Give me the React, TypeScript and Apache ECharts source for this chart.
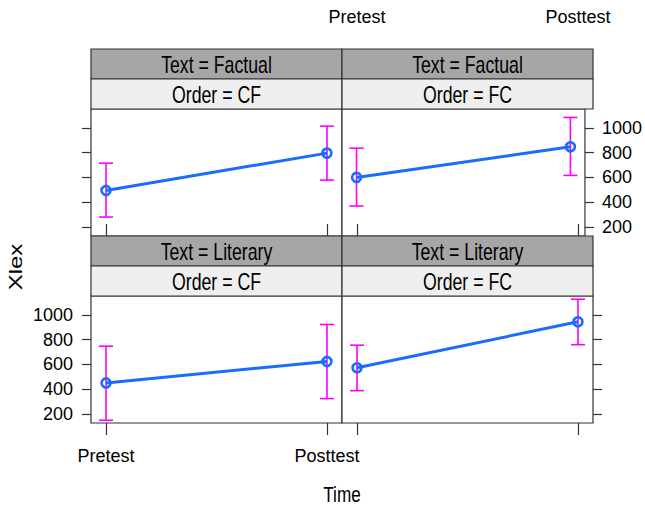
import React, { useEffect, useRef } from "react";
import * as echarts from "echarts";

const categories = ["Pretest", "Posttest"];
const xPositions = [1, 2];
const yTicks = [200, 400, 600, 800, 1000];

const textLevels = ["Factual", "Factual", "Literary", "Literary"];
const orderLevels = ["CF", "FC", "CF", "FC"];

const factualCFMean = [495, 796];
const factualCFLow = [280, 578];
const factualCFHigh = [715, 1014];

const factualFCMean = [600, 847];
const factualFCLow = [369, 616];
const factualFCHigh = [836, 1084];

const literaryCFMean = [450, 624];
const literaryCFLow = [149, 324];
const literaryCFHigh = [747, 922];

const literaryFCMean = [573, 944];
const literaryFCLow = [388, 759];
const literaryFCHigh = [755, 1126];

const panelMeans = [factualCFMean, factualFCMean, literaryCFMean, literaryFCMean];
const panelLows = [factualCFLow, factualFCLow, literaryCFLow, literaryFCLow];
const panelHighs = [factualCFHigh, factualFCHigh, literaryCFHigh, literaryFCHigh];

const FONT = '"Liberation Sans", Arial, Helvetica, sans-serif';
const AXIS_FS = 18;
const BORDER = "#333333";
const BLUE = "#1a6cff";
const MAGENTA = "#ff00ff";

export default function App() {
  const ref = useRef<HTMLDivElement>(null);

  useEffect(() => {
    if (!ref.current) return;
    const chart = echarts.init(ref.current, null, { renderer: "svg" });

    const PW = 251;
    const PH = 127;
    const lefts = [91, 342, 91, 342];
    const tops = [109, 109, 296, 296];
    const stripH = 30;
    const X_MIN = 0.932;
    const X_MAX = 2.068;

    const grids: any[] = lefts.map((l, i) => ({
      left: l,
      top: tops[i],
      width: PW,
      height: PH,
      show: true,
      borderColor: BORDER,
      borderWidth: 1.2,
      backgroundColor: "#ffffff",
    }));
    // outer frames for the top-row x axes (above the strips)
    grids.push({ left: 91, top: 49, width: PW, height: 187, show: false });
    grids.push({ left: 342, top: 49, width: PW, height: 187, show: false });

    const labelStyle = { color: "#000", fontSize: AXIS_FS, fontFamily: FONT };
    const tickStyle = { color: BORDER, width: 1.2 };
    const catFormatter = (v: number) => categories[Math.round(v) - 1] ?? "";

    const xAxes: any[] = [0, 1, 2, 3].map((i) => {
      const isTop = i < 2;
      return {
        type: "value",
        gridIndex: i,
        min: X_MIN,
        max: X_MAX,
        position: "bottom",
        axisLine: { show: false },
        splitLine: { show: false },
        axisTick: {
          show: !isTop,
          length: 12,
          customValues: xPositions,
          lineStyle: tickStyle,
        },
        axisLabel: {
          show: i === 2,
          customValues: xPositions,
          margin: 24,
          formatter: catFormatter,
          ...labelStyle,
        },
      };
    });
    [4, 5].forEach((g) => {
      xAxes.push({
        type: "value",
        gridIndex: g,
        min: X_MIN,
        max: X_MAX,
        position: "top",
        axisLine: { show: false },
        splitLine: { show: false },
        axisTick: { show: true, length: 12, customValues: xPositions, lineStyle: tickStyle },
        axisLabel: {
          show: g === 5,
          customValues: xPositions,
          margin: 23,
          formatter: catFormatter,
          ...labelStyle,
        },
      });
    });

    const yAxes: any[] = [0, 1, 2, 3].map((i) => {
      const isRight = i === 1 || i === 3;
      const showLabel = i === 1 || i === 2;
      return {
        type: "value",
        gridIndex: i,
        min: 127,
        max: 1152,
        position: isRight ? "right" : "left",
        axisLine: { show: false },
        splitLine: { show: false },
        axisTick: {
          show: true,
          length: 9,
          customValues: yTicks,
          lineStyle: tickStyle,
        },
        axisLabel: {
          show: showLabel,
          customValues: yTicks,
          margin: isRight ? 17 : 18,
          formatter: (v: number) => String(v),
          ...labelStyle,
        },
      };
    });
    [4, 5].forEach((g) => {
      yAxes.push({ type: "value", gridIndex: g, min: 0, max: 1, show: false });
    });

    const series: any[] = [];
    for (let i = 0; i < 4; i++) {
      const errData = xPositions.map((x, k) => [x, panelLows[i][k], panelHighs[i][k]]);
      series.push({
        type: "custom",
        xAxisIndex: i,
        yAxisIndex: i,
        z: 1,
        data: errData,
        encode: { x: 0, y: [1, 2] },
        renderItem: (params: any, api: any) => {
          const x = api.value(0);
          const lo = api.coord([x, api.value(1)]);
          const hi = api.coord([x, api.value(2)]);
          const hw = 7;
          const st = { stroke: MAGENTA, lineWidth: 1.6 };
          return {
            type: "group",
            children: [
              { type: "line", shape: { x1: lo[0], y1: lo[1], x2: hi[0], y2: hi[1] }, style: st },
              { type: "line", shape: { x1: lo[0] - hw, y1: lo[1], x2: lo[0] + hw, y2: lo[1] }, style: st },
              { type: "line", shape: { x1: hi[0] - hw, y1: hi[1], x2: hi[0] + hw, y2: hi[1] }, style: st },
            ],
          };
        },
      });
      series.push({
        type: "line",
        xAxisIndex: i,
        yAxisIndex: i,
        z: 3,
        data: xPositions.map((x, k) => [x, panelMeans[i][k]]),
        symbol: "circle",
        symbolSize: 9,
        lineStyle: { color: BLUE, width: 3 },
        itemStyle: { color: "rgba(255,255,255,0)", borderColor: BLUE, borderWidth: 2.6 },
      });
    }

    const SX = 0.77;
    const graphics: any[] = [];
    for (let i = 0; i < 4; i++) {
      const x = lefts[i];
      const darkTop = tops[i] - 2 * stripH;
      const lightTop = tops[i] - stripH;
      const cx = x + PW / 2;
      graphics.push({
        type: "rect",
        shape: { x, y: darkTop, width: PW, height: stripH },
        style: { fill: "#a6a6a6", stroke: BORDER, lineWidth: 1.2 },
        z: 10,
      });
      graphics.push({
        type: "rect",
        shape: { x, y: lightTop, width: PW, height: stripH },
        style: { fill: "#efefef", stroke: BORDER, lineWidth: 1.2 },
        z: 10,
      });
      graphics.push({
        type: "text",
        x: cx,
        y: darkTop + stripH / 2 + 1,
        scaleX: SX,
        z: 11,
        style: {
          text: "Text = " + textLevels[i],
          fontSize: 23,
          fontFamily: FONT,
          fill: "#000",
          align: "center",
          verticalAlign: "middle",
        },
      });
      graphics.push({
        type: "text",
        x: cx,
        y: lightTop + stripH / 2 + 1,
        scaleX: SX,
        z: 11,
        style: {
          text: "Order = " + orderLevels[i],
          fontSize: 23,
          fontFamily: FONT,
          fill: "#000",
          align: "center",
          verticalAlign: "middle",
        },
      });
    }
    graphics.push({
      type: "text",
      x: 342,
      y: 494,
      scaleX: 0.78,
      style: { text: "Time", fontSize: 22, fontFamily: FONT, fill: "#000", align: "center", verticalAlign: "middle" },
    });
    graphics.push({
      type: "text",
      x: 15,
      y: 267,
      rotation: Math.PI / 2,
      scaleY: 0.8,
      style: { text: "Xlex", fontSize: 24, fontFamily: FONT, fill: "#000", align: "center", verticalAlign: "middle" },
    });

    chart.setOption({
      animation: false,
      backgroundColor: "#ffffff",
      grid: grids,
      xAxis: xAxes,
      yAxis: yAxes,
      series,
      graphic: graphics,
    });

    return () => chart.dispose();
  }, []);

  return (
    <div
      ref={ref}
      style={{ position: "fixed", left: 0, top: 0, width: 645, height: 507, background: "#fff" }}
    />
  );
}
